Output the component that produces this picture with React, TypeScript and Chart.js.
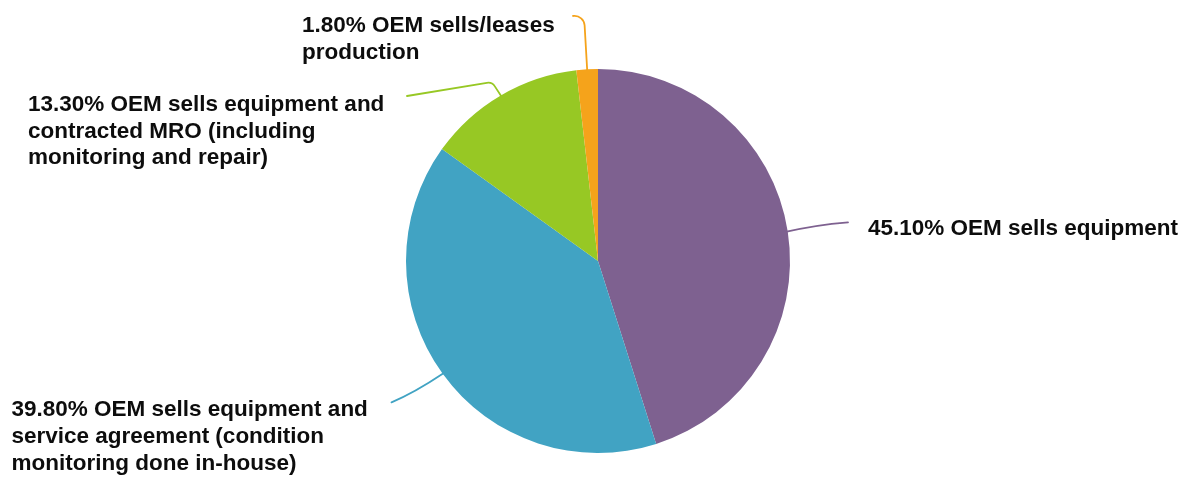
import React, { useEffect, useRef } from "react";
import { Chart, registerables } from "chart.js";

Chart.register(...registerables);

// ---- data ----
const categories: string[][] = [
  ["OEM sells equipment"],
  ["OEM sells equipment and", "service agreement (condition", "monitoring done in-house)"],
  ["OEM sells equipment and", "contracted MRO (including", "monitoring and repair)"],
  ["OEM sells/leases", "production"],
];
const shares: number[] = [45.1, 39.8, 13.3, 1.8];
const colors: string[] = ["#7E6190", "#41A3C3", "#97C824", "#F5A31B"];

// ---- label placement (annotation layout, not data) ----
const labelLayout = [
  { x: 868, y: 235, ctrl: [815, 225], end: [848, 222.3] },
  { x: 11.5, y: 416, ctrl: [414, 393], end: [391.5, 402.3] },
  { x: 28, y: 110.7, corner: [492, 82], end: [407, 96], r: 8 },
  { x: 302, y: 31.7, corner: [584, 15], end: [573, 16], r: 10 },
];
const lineHeight = 26.8;
const fontSpec = "bold 22.5px 'Liberation Sans', Arial, sans-serif";

const labelPlugin = {
  id: "pieLabels",
  afterDatasetsDraw(chart: any) {
    const ctx = chart.ctx as CanvasRenderingContext2D;
    const meta = chart.getDatasetMeta(0);
    ctx.save();
    meta.data.forEach((arc: any, i: number) => {
      const { x, y, startAngle, endAngle, outerRadius } = arc.getProps(
        ["x", "y", "startAngle", "endAngle", "outerRadius"],
        true
      );
      const mid = (startAngle + endAngle) / 2;
      const sx = x + Math.cos(mid) * (outerRadius - 1);
      const sy = y + Math.sin(mid) * (outerRadius - 1);
      const L: any = labelLayout[i];
      ctx.beginPath();
      ctx.strokeStyle = colors[i];
      ctx.lineWidth = 1.8;
      ctx.lineCap = "round";
      ctx.moveTo(sx, sy);
      if (L.ctrl) {
        ctx.quadraticCurveTo(L.ctrl[0], L.ctrl[1], L.end[0], L.end[1]);
      } else {
        ctx.arcTo(L.corner[0], L.corner[1], L.end[0], L.end[1], L.r);
        ctx.lineTo(L.end[0], L.end[1]);
      }
      ctx.stroke();

      ctx.fillStyle = "#0d0d0d";
      ctx.font = fontSpec;
      ctx.textAlign = "left";
      ctx.textBaseline = "alphabetic";
      const lines = categories[i].slice();
      lines[0] = `${shares[i].toFixed(2)}% ${lines[0]}`;
      lines.forEach((t, k) => ctx.fillText(t, L.x, L.y + k * lineHeight));
    });
    ctx.restore();
  },
};

export default function App() {
  const ref = useRef<HTMLCanvasElement | null>(null);
  useEffect(() => {
    if (!ref.current) return;
    const chart = new Chart(ref.current, {
      type: "pie",
      data: {
        labels: categories.map((c) => c.join(" ")),
        datasets: [
          {
            data: shares,
            backgroundColor: colors,
            borderColor: colors,
            borderWidth: 0,
          },
        ],
      },
      options: {
        animation: false,
        responsive: false,
        events: [],
        layout: { padding: { top: 69, bottom: 26, left: 7, right: 0 } },
        plugins: {
          legend: { display: false },
          tooltip: { enabled: false },
        },
      },
      plugins: [labelPlugin],
    });
    return () => chart.destroy();
  }, []);
  return (
    <div style={{ position: "absolute", left: 0, top: 0, width: 1189, height: 479, background: "#fff" }}>
      <canvas ref={ref} width={1189} height={479} style={{ width: 1189, height: 479, display: "block" }} />
    </div>
  );
}
